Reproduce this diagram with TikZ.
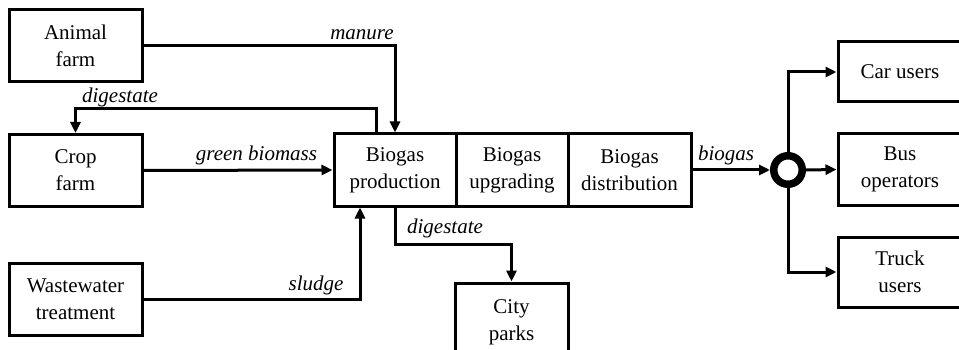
\documentclass[tikz,border=0pt]{standalone}
\usepackage{fontspec}
\setmainfont{Liberation Serif}
\usetikzlibrary{arrows.meta}
\begin{document}
\begin{tikzpicture}[x=1pt,y=-1pt,
  blk/.style={draw, line width=3pt, inner sep=0pt, align=center,
    font=\fontsize{21}{27}\selectfont},
  edge/.style={blk, overlay},
  flow/.style={line width=3pt, -{Triangle[length=11pt,width=10pt]}},
  tag/.style={font=\fontsize{21}{27}\selectfont\itshape, inner sep=0pt}]
\useasboundingbox (0,0) rectangle (959,350);
\clip (0,0) rectangle (959,350);
\fill[white] (0,0) rectangle (959,350);

% sources
\node[blk, minimum width=133pt, minimum height=72pt] (animal) at (75.5,46) {Animal\\farm};
\node[blk, minimum width=133pt, minimum height=72pt] (crop) at (75.5,170.5) {Crop\\farm};
\node[blk, minimum width=133pt, minimum height=72pt] (waste) at (75.5,299) {Wastewater\\treatment};

% biogas chain
\node[blk, minimum width=122pt, minimum height=72pt] (prod) at (395,170) {Biogas\\production};
\node[blk, minimum width=112pt, minimum height=72pt] (upg) at (512,170) {Biogas\\upgrading};
\node[blk, minimum width=123pt, minimum height=72pt] (dist) at (629.5,170) {Biogas\\distribution};

% sinks (they run past the page edge)
\node[edge, minimum width=113pt, minimum height=78pt] (parks) at (511.5,322) {City\\parks};
\node[edge, minimum width=124pt, minimum height=60pt] (car) at (900,72) {Car users};
\node[edge, minimum width=124pt, minimum height=71pt] (bus) at (900,169.5) {Bus\\operators};
\node[edge, minimum width=124pt, minimum height=70pt] (truck) at (900,272) {Truck\\users};

% distribution hub
\node[draw, circle, line width=7.5pt, minimum size=28.5pt, inner sep=0pt, outer sep=3.75pt] (hub) at (788,170) {};

% flows
\coordinate (dgtop) at (376,109);
\coordinate (dgbot) at (395,244);
\coordinate (sl) at (360,300);

\draw[flow] (animal.east) -| (prod.north);
\draw[flow] (prod.north -| dgtop) -- (dgtop) -| (crop.north);
\draw[flow] (crop.east) -- (prod.west);
\draw[flow] (waste.east) -| (prod.south -| sl);
\draw[flow] (prod.south) -- (dgbot) -| (parks.north);
\draw[flow] (dist.east) -- (hub.west);
\draw[flow] (hub.north) |- (car.west);
\draw[flow] (hub.east) -- (bus.west);
\draw[flow] (hub.south) |- (truck.west);

% flow labels
\node[tag] (lmanure) at (362,35) {manure};
\node[tag] (ldigtop) at (120,97) {digestate};
\node[tag] (lgreen) at (256.5,155) {green biomass};
\node[tag] (lsludge) at (316,285) {sludge};
\node[tag] (ldigbot) at (445,228) {digestate};
\node[tag] (lbiogas) at (726,155) {biogas};
\end{tikzpicture}
\end{document}
